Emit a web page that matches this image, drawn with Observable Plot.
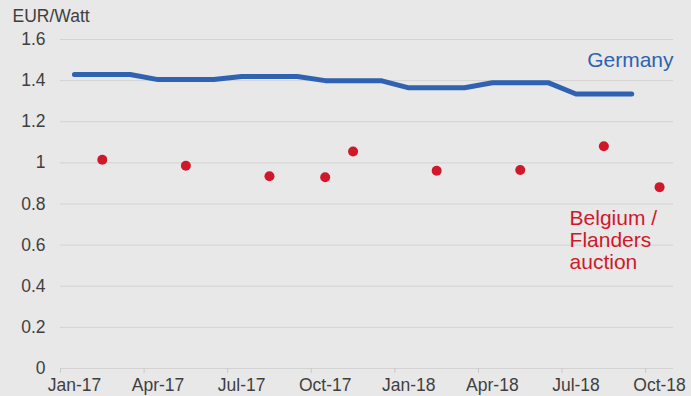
<!DOCTYPE html>
<html>
<head>
<meta charset="utf-8">
<script src="https://cdn.jsdelivr.net/npm/d3@7"></script>
<script src="https://cdn.jsdelivr.net/npm/@observablehq/plot@0.6"></script>
<style>
  html, body { margin: 0; padding: 0; background: #e8e8e8; }
</style>
</head>
<body>
<div id="chart"></div>
<script>
// Monthly categories on the x axis
const months = ["Jan-17","Feb-17","Mar-17","Apr-17","May-17","Jun-17","Jul-17","Aug-17","Sep-17","Oct-17","Nov-17","Dec-17",
                "Jan-18","Feb-18","Mar-18","Apr-18","May-18","Jun-18","Jul-18","Aug-18","Sep-18","Oct-18"];
// Germany series (EUR/Watt), Jan-17 .. Sep-18
const germanyMonths = months.slice(0, 21);
const germanyValues = [1.43,1.43,1.43,1.405,1.405,1.405,1.42,1.42,1.42,1.40,1.40,1.40,
                       1.365,1.365,1.365,1.39,1.39,1.39,1.335,1.335,1.335];
// Belgium / Flanders auction results
const belgiumMonths = ["Feb-17","May-17","Aug-17","Oct-17","Nov-17","Feb-18","May-18","Aug-18","Oct-18"];
const belgiumValues = [1.015,0.986,0.935,0.93,1.055,0.962,0.965,1.081,0.882];
// Axis ticks
const xTickLabels = ["Jan-17","Apr-17","Jul-17","Oct-17","Jan-18","Apr-18","Jul-18","Oct-18"];
const yTicks = [0,0.2,0.4,0.6,0.8,1,1.2,1.4,1.6];
const unitLabel = "EUR/Watt";
const germanyName = "Germany";
const belgiumName = "Belgium /\nFlanders\nauction";

const blue = "#2f62b0";
const red = "#d0182a";

const idx = m => months.indexOf(m);
const germany = germanyMonths.map((m, i) => ({x: idx(m) + 0.5, y: germanyValues[i]}));
const belgium = belgiumMonths.map((m, i) => ({x: idx(m) + 0.5, y: belgiumValues[i]}));
const tickEdges = xTickLabels.map(m => idx(m));
const tickCenters = xTickLabels.map(m => idx(m) + 0.5);

// annotation anchors (in data units)
const germanyLabel = [{text: germanyName, x: months.length, y: 1.5}];
const belgiumLabel = [{text: belgiumName, x: 18.27, y: 0.623}];

const chart = Plot.plot({
  width: 691,
  height: 396,
  marginLeft: 60,
  marginRight: 18,
  marginTop: 39,
  marginBottom: 28,
  style: {
    background: "#e8e8e8",
    fontFamily: "'Liberation Sans', Arial, sans-serif",
    fontSize: "17px",
    color: "#3f3f3f",
    overflow: "visible"
  },
  x: {domain: [0, months.length], axis: null},
  y: {domain: [0, 1.6], axis: null},
  marks: [
    Plot.gridY(yTicks, {stroke: "#d3d3d3", strokeOpacity: 1, strokeWidth: 1}),
    Plot.axisX(tickEdges, {tickSize: 5, stroke: "#c9c9c9", tickFormat: () => "", label: null}),
    Plot.axisX(tickCenters, {tickSize: 0, tickPadding: 10, tickFormat: d => months[Math.round(d - 0.5)], label: null, fontSize: 17.5}),
    Plot.axisY(yTicks, {tickSize: 0, tickPadding: 15, tickFormat: d => String(+d.toFixed(1)), label: null, fontSize: 17.5}),
    Plot.text([unitLabel], {frameAnchor: "top-left", dx: -48, dy: -23, textAnchor: "start", lineAnchor: "middle", fontSize: 17.5, fill: "#3f3f3f"}),
    Plot.line(germany, {x: "x", y: "y", stroke: blue, strokeWidth: 5, strokeLinejoin: "round", strokeLinecap: "round"}),
    Plot.dot(belgium, {x: "x", y: "y", r: 5, fill: red, stroke: null}),
    Plot.text(germanyLabel, {x: "x", y: "y", text: "text", fill: blue, textAnchor: "end", lineAnchor: "middle", fontSize: 21}),
    Plot.text(belgiumLabel, {x: "x", y: "y", text: "text", fill: red, textAnchor: "start", lineAnchor: "middle", fontSize: 21, lineHeight: 1.05})
  ]
});
document.getElementById("chart").appendChild(chart);
</script>
</body>
</html>
